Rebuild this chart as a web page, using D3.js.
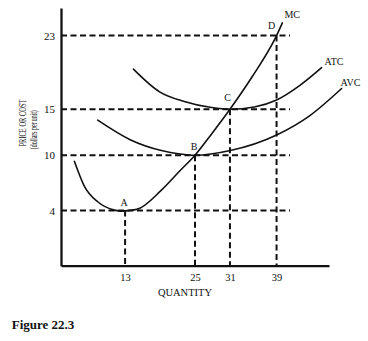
<!DOCTYPE html>
<html>
<head>
<meta charset="utf-8">
<script src="https://cdn.jsdelivr.net/npm/d3@7/dist/d3.min.js"></script>
<style>
  html, body { margin: 0; padding: 0; background: #fff; }
  svg { display: block; }
  text { font-family: "Liberation Serif", "Times New Roman", Times, serif; fill: #111; }
</style>
</head>
<body>
<div id="chart"></div>
<script>
// Tick values on each axis (the key quantities and costs)
const qTicks = [13, 25, 31, 39];
const costTicks = [4, 10, 15, 23];

// Labelled points where the curves meet the guide lines
const pointLabels = ["A", "B", "C", "D"];
const pointQ = [13, 25, 31, 39];
const pointCost = [4, 10, 15, 23];

// Marginal cost curve
const mcQ    = [4.30, 6.02, 8.30, 11.17, 12.32, 15.01, 19.23, 22.41, 25, 27.85, 31, 34.78, 39, 40.0];
const mcCost = [9.35, 6.63, 4.95, 4.04, 3.93, 4.12, 6.21, 8.31, 10, 12.32, 15, 18.50, 23, 24.38];

// Average total cost curve
const atcQ    = [14.43, 18.92, 23.16, 27.85, 31, 35.18, 39.01, 43.01, 46.73];
const atcCost = [19.36, 16.89, 15.84, 15.18, 15, 15.25, 16.01, 17.60, 19.52];

// Average variable cost curve
const avcQ    = [8.30, 13.96, 19.23, 22.41, 25, 31.06, 39.01, 44.72, 50.16];
const avcCost = [13.81, 11.66, 10.51, 10.14, 10, 10.51, 12.20, 14.31, 17.25];

const curveNames = ["MC", "ATC", "AVC"];

// Axis extents and where the horizontal guides stop
const qDomain = [2, 48];
const costDomain = [-2, 26];
const guideEndQ = 41.3;

const width = 368, height = 341;
const margin = { top: 8, right: 39, bottom: 75.3, left: 61 };
const serif = "'Liberation Serif', 'Times New Roman', Times, serif";

const svg = d3.select("#chart").append("svg")
  .attr("width", width).attr("height", height)
  .attr("font-family", serif);

const x = d3.scaleLinear().domain(qDomain).range([margin.left, width - margin.right]);
const y = d3.scaleLinear().domain(costDomain).range([height - margin.bottom, margin.top]);

const ink = "#111";

// Dashed guide lines
const guides = svg.append("g")
  .attr("fill", "none")
  .attr("stroke", ink)
  .attr("stroke-width", 2)
  .attr("stroke-dasharray", "6,3.5");

guides.selectAll("line.h").data(costTicks).join("line")
  .attr("class", "h")
  .attr("x1", x(qDomain[0])).attr("x2", x(guideEndQ))
  .attr("y1", d => y(d)).attr("y2", d => y(d));

guides.selectAll("line.v").data(pointQ.map((q, i) => [q, pointCost[i]])).join("line")
  .attr("class", "v")
  .attr("x1", d => x(d[0])).attr("x2", d => x(d[0]))
  .attr("y1", d => y(d[1])).attr("y2", y(costDomain[0]));

// Cost curves
const line = d3.line()
  .x(d => x(d[0])).y(d => y(d[1]))
  .curve(d3.curveMonotoneX);

const series = [
  mcQ.map((q, i) => [q, mcCost[i]]),
  atcQ.map((q, i) => [q, atcCost[i]]),
  avcQ.map((q, i) => [q, avcCost[i]])
];

svg.append("g").selectAll("path").data(series).join("path")
  .attr("d", line)
  .attr("fill", "none")
  .attr("stroke", ink)
  .attr("stroke-width", 1.6)
  .attr("stroke-linecap", "round");

// Curve names beside the upper ends
const nameOffsets = [[2, -8], [3, -6], [-1, -6]];
svg.append("g").selectAll("text").data(series).join("text")
  .attr("x", (d, i) => x(d[d.length - 1][0]) + nameOffsets[i][0])
  .attr("y", (d, i) => y(d[d.length - 1][1]) + nameOffsets[i][1])
  .attr("dy", "0.35em")
  .attr("font-size", 10)
  .text((d, i) => curveNames[i]);

// Point letters
const letterOffsets = [[-1, -8], [-1, -9], [-2.4, -12], [-5, -10.4]];
svg.append("g").selectAll("text").data(pointLabels).join("text")
  .attr("x", (d, i) => x(pointQ[i]) + letterOffsets[i][0])
  .attr("y", (d, i) => y(pointCost[i]) + letterOffsets[i][1])
  .attr("dy", "0.35em")
  .attr("text-anchor", "middle")
  .attr("font-size", 10)
  .text(d => d);

// Axes
const xAxis = svg.append("g")
  .attr("transform", `translate(0,${y(costDomain[0])})`)
  .call(d3.axisBottom(x).tickValues(qTicks).tickSize(0).tickSizeOuter(0).tickPadding(8));
const yAxis = svg.append("g")
  .attr("transform", `translate(${x(qDomain[0])},0)`)
  .call(d3.axisLeft(y).tickValues(costTicks).tickSize(0).tickSizeOuter(0).tickPadding(6));

[xAxis, yAxis].forEach(a => {
  a.attr("font-family", serif);
  a.select(".domain").attr("stroke", ink).attr("stroke-width", 2.3);
  a.selectAll(".tick text").attr("fill", ink);
});
xAxis.attr("font-size", 10.5);
yAxis.attr("font-size", 11);

// Axis titles
svg.append("text")
  .attr("x", 185)
  .attr("y", 292)
  .attr("dy", "0.35em")
  .attr("text-anchor", "middle")
  .attr("font-size", 10.5)
  .text("QUANTITY");

const yTitle = svg.append("g").attr("transform", "translate(0,126) rotate(-90)");
yTitle.append("text")
  .attr("x", 3).attr("y", 22.7).attr("dy", "0.35em")
  .attr("text-anchor", "middle")
  .attr("font-size", 10)
  .attr("textLength", 47).attr("lengthAdjust", "spacingAndGlyphs")
  .text("PRICE OR COST");
yTitle.append("text")
  .attr("x", -3.7).attr("y", 33.3).attr("dy", "0.35em")
  .attr("text-anchor", "middle")
  .attr("font-size", 9.5)
  .attr("textLength", 39).attr("lengthAdjust", "spacingAndGlyphs")
  .text("(dollars per unit)");

// Caption
svg.append("text")
  .attr("x", 11.7).attr("y", 329)
  .attr("font-size", 13)
  .attr("font-weight", "bold")
  .text("Figure 22.3");
</script>
</body>
</html>
